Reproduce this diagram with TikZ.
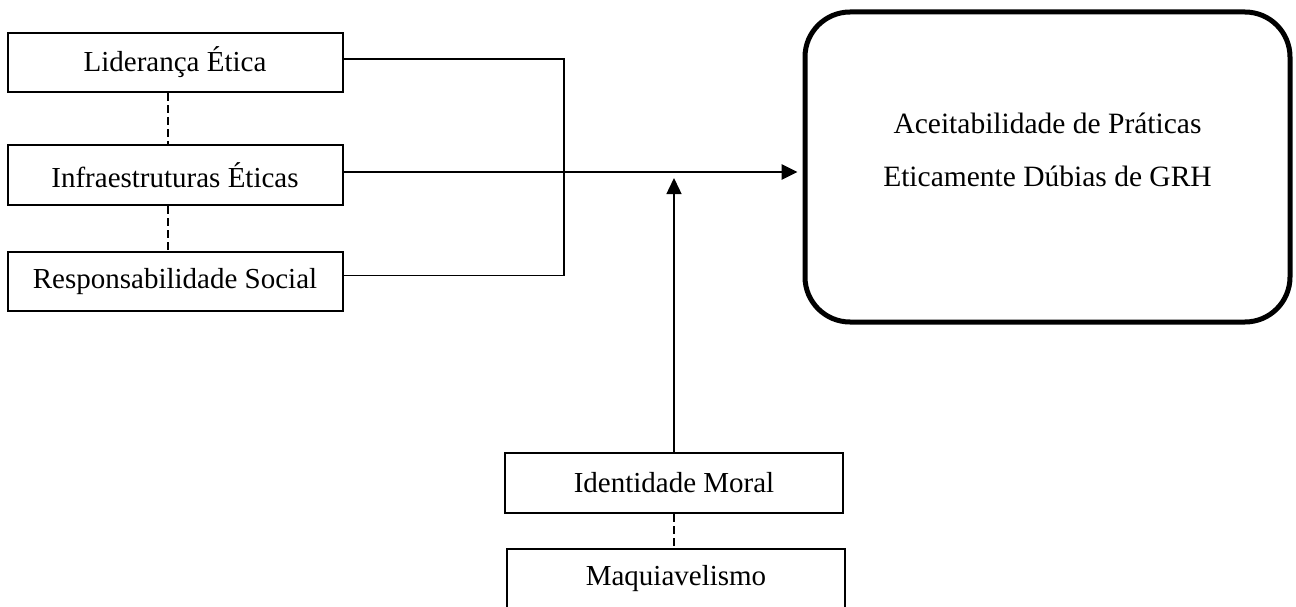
\documentclass[tikz,border=0pt]{standalone}
\usepackage{fontspec}
\setmainfont{Liberation Serif}
\usetikzlibrary{arrows.meta}
\begin{document}
\begin{tikzpicture}[x=1pt,y=-1pt,
  every node/.style={font=\fontsize{29}{35}\selectfont},
  varbox/.style={draw,line width=2pt,minimum width=335pt,minimum height=59pt,inner sep=0pt,anchor=center},
  bigbox/.style={draw,line width=5pt,rounded corners=45pt,minimum width=485pt,minimum height=310pt,inner sep=0pt},
  thinline/.style={line width=1.4pt},
  dashline/.style={line width=1.2pt,dash pattern=on 8pt off 4pt},
  headtip/.style={-{Triangle[length=16pt,width=15pt]}}
]
\useasboundingbox (0,0) rectangle (1296,607);

\node[varbox] (L) at (175,62.5) {Liderança Ética};
\node[varbox,minimum height=60pt] (I) at (175,175) {Infraestruturas Éticas};
\node[varbox] (R) at (175,281.5) {Responsabilidade Social};

\node[varbox,minimum width=338pt,minimum height=60pt] (Id) at (674,483) {Identidade Moral};
\node[varbox,minimum width=338pt,minimum height=60pt] (Mq) at (676,579) {Maquiavelismo};

\node[bigbox] (out) at (1047.5,167) {};
\node[align=center,font=\fontsize{29.5}{53}\selectfont] (outtext) at (1047.5,150) {Aceitabilidade de Práticas\\Eticamente Dúbias de GRH};

\coordinate (j) at (564,172);
\coordinate (m) at (674,178);

% dashed links
\draw[dashline] ([xshift=-7pt]L.south) -- ([xshift=-7pt]I.north);
\draw[dashline] ([xshift=-7pt]I.south) -- ([xshift=-7pt]R.north);
\draw[dashline] (Id.south) -- (Id.south |- Mq.north);

% connectors from left boxes
\draw[thinline] ([yshift=3.5pt]L.east) -| (j);
\draw[thinline] ([yshift=6pt]R.east) -| (j);
\draw[thinline] ([yshift=3pt]I.east) -- (j);

% main arrow
\draw[line width=2.8pt,headtip,shorten >=5pt] (j) -- (j -| out.west);

% moderator arrow
\draw[thinline,headtip] (Id.north) -- (m);
\end{tikzpicture}
\end{document}
